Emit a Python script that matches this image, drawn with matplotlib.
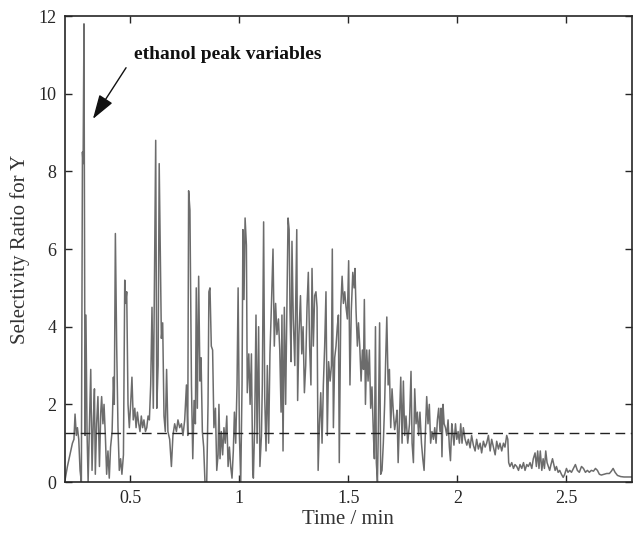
import matplotlib
matplotlib.use("Agg")
import matplotlib.pyplot as plt

time_min = [
    0.200, 0.211, 0.226, 0.234, 0.241, 0.246, 0.252, 0.257, 0.263, 0.269,
    0.275, 0.280, 0.283, 0.287, 0.292, 0.296, 0.301, 0.306, 0.312, 0.318,
    0.324, 0.330, 0.335, 0.339, 0.345, 0.351, 0.358, 0.364, 0.368, 0.374,
    0.379, 0.385, 0.391, 0.397, 0.403, 0.409, 0.416, 0.422, 0.426, 0.431,
    0.437, 0.443, 0.449, 0.455, 0.461, 0.468, 0.474, 0.478, 0.483, 0.489,
    0.495, 0.501, 0.507, 0.513, 0.520, 0.526, 0.532, 0.538, 0.544, 0.550,
    0.556, 0.562, 0.569, 0.575, 0.581, 0.587, 0.593, 0.599, 0.605, 0.611,
    0.616, 0.621, 0.627, 0.632, 0.642, 0.648, 0.654, 0.660, 0.666, 0.672,
    0.680, 0.688, 0.695, 0.703, 0.711, 0.718, 0.726, 0.734, 0.741, 0.749,
    0.757, 0.763, 0.767, 0.773, 0.780, 0.786, 0.792, 0.798, 0.802, 0.807,
    0.813, 0.819, 0.824, 0.830, 0.836, 0.842, 0.850, 0.856, 0.860, 0.865,
    0.871, 0.877, 0.883, 0.890, 0.896, 0.902, 0.906, 0.911, 0.917, 0.923,
    0.929, 0.935, 0.942, 0.948, 0.954, 0.960, 0.966, 0.972, 0.977, 0.983,
    0.989, 0.994, 1.000, 1.006, 1.012, 1.016, 1.021, 1.026, 1.032, 1.036,
    1.043, 1.049, 1.055, 1.061, 1.064, 1.070, 1.076, 1.081, 1.088, 1.094,
    1.101, 1.105, 1.111, 1.116, 1.122, 1.128, 1.134, 1.140, 1.146, 1.154,
    1.160, 1.166, 1.172, 1.179, 1.185, 1.191, 1.195, 1.200, 1.206, 1.212,
    1.218, 1.223, 1.228, 1.232, 1.237, 1.241, 1.247, 1.254, 1.258, 1.263,
    1.267, 1.273, 1.280, 1.286, 1.292, 1.298, 1.304, 1.310, 1.316, 1.322,
    1.328, 1.333, 1.339, 1.345, 1.351, 1.356, 1.361, 1.367, 1.373, 1.379,
    1.385, 1.391, 1.397, 1.403, 1.409, 1.416, 1.422, 1.426, 1.431, 1.437,
    1.443, 1.449, 1.454, 1.458, 1.465, 1.471, 1.477, 1.483, 1.489, 1.495,
    1.501, 1.507, 1.513, 1.520, 1.526, 1.530, 1.535, 1.541, 1.546, 1.552,
    1.558, 1.564, 1.569, 1.573, 1.578, 1.584, 1.590, 1.596, 1.602, 1.608,
    1.614, 1.619, 1.624, 1.628, 1.633, 1.637, 1.643, 1.648, 1.654, 1.660,
    1.666, 1.671, 1.676, 1.682, 1.688, 1.694, 1.700, 1.706, 1.712, 1.718,
    1.723, 1.728, 1.734, 1.740, 1.746, 1.752, 1.758, 1.764, 1.772, 1.780,
    1.787, 1.792, 1.798, 1.804, 1.810, 1.816, 1.822, 1.828, 1.835, 1.841,
    1.847, 1.853, 1.859, 1.865, 1.871, 1.877, 1.883, 1.890, 1.896, 1.902,
    1.908, 1.914, 1.920, 1.925, 1.929, 1.934, 1.939, 1.945, 1.951, 1.957,
    1.963, 1.968, 1.974, 1.978, 1.984, 1.991, 1.997, 2.003, 2.009, 2.015,
    2.021, 2.027, 2.035, 2.043, 2.050, 2.058, 2.065, 2.073, 2.081, 2.088,
    2.096, 2.104, 2.111, 2.119, 2.127, 2.134, 2.142, 2.150, 2.157, 2.165,
    2.173, 2.180, 2.188, 2.195, 2.203, 2.211, 2.218, 2.226, 2.231, 2.235,
    2.241, 2.249, 2.257, 2.264, 2.272, 2.280, 2.287, 2.295, 2.303, 2.310,
    2.318, 2.325, 2.333, 2.341, 2.348, 2.356, 2.362, 2.368, 2.374, 2.380,
    2.387, 2.393, 2.399, 2.405, 2.411, 2.417, 2.423, 2.429, 2.436, 2.442,
    2.448, 2.454, 2.462, 2.469, 2.477, 2.485, 2.492, 2.500, 2.507, 2.515,
    2.523, 2.532, 2.541, 2.550, 2.559, 2.569, 2.578, 2.587, 2.596, 2.605,
    2.614, 2.624, 2.633, 2.642, 2.651, 2.660, 2.673, 2.685, 2.697, 2.706,
    2.714, 2.723, 2.734, 2.749, 2.764, 2.780, 2.806,
]

selectivity_ratio = [
    0.05, 0.40, 0.80, 1.00, 1.10, 1.75, 1.20, 1.40, 1.10, 0.30,
    0.00, 8.50, 8.20, 11.8, 1.20, 4.30, 1.30, 0.00, 1.50, 2.90,
    0.30, 1.60, 2.40, 0.20, 1.50, 2.20, 0.40, 1.80, 2.20, 1.50,
    2.00, 1.20, 0.20, 0.80, 0.10, 0.90, 1.30, 2.70, 2.00, 6.40,
    3.50, 1.40, 0.30, 0.60, 0.20, 0.70, 5.20, 4.60, 4.90, 2.00,
    1.40, 2.00, 2.70, 1.60, 1.90, 1.40, 1.80, 1.50, 1.30, 1.70,
    1.40, 1.60, 1.30, 1.40, 1.70, 1.60, 2.50, 4.50, 1.90, 5.50,
    8.80, 1.90, 3.00, 8.20, 3.70, 4.10, 1.70, 1.30, 2.90, 1.30,
    1.10, 0.40, 1.20, 1.50, 1.30, 1.60, 1.40, 1.50, 1.20, 1.60,
    2.50, 1.20, 7.50, 7.00, 2.50, 0.60, 2.10, 1.50, 5.00, 1.90,
    5.30, 2.60, 3.20, 1.30, 0.90, 0.00, 0.00, 2.00, 4.90, 5.00,
    3.50, 3.40, 1.40, 1.90, 0.30, 0.70, 2.00, 0.60, 1.30, 0.70,
    1.40, 1.00, 1.70, 0.40, 0.90, 0.40, 0.10, 0.80, 1.80, 1.00,
    2.50, 5.00, 1.20, 0.00, 2.50, 6.50, 4.70, 6.80, 6.10, 2.30,
    3.30, 2.00, 3.30, 0.30, 0.10, 1.50, 4.30, 1.00, 4.00, 0.40,
    1.20, 2.50, 6.70, 2.20, 0.80, 3.00, 1.00, 3.30, 4.40, 6.00,
    3.50, 4.60, 3.80, 4.20, 3.40, 1.80, 4.30, 0.80, 4.50, 2.00,
    4.60, 6.80, 6.50, 4.40, 3.10, 6.20, 4.20, 3.00, 4.50, 6.50,
    2.10, 3.80, 4.80, 3.30, 4.00, 2.30, 3.00, 4.50, 5.40, 3.50,
    2.50, 5.50, 3.50, 4.80, 4.90, 4.50, 0.30, 1.50, 2.30, 1.00,
    2.50, 3.50, 4.90, 1.20, 3.10, 2.60, 3.00, 6.00, 1.40, 3.20,
    3.50, 4.00, 4.30, 0.50, 4.50, 5.30, 4.60, 4.90, 4.50, 4.20,
    5.70, 2.50, 4.40, 5.40, 5.00, 5.50, 4.40, 3.50, 4.10, 3.50,
    2.60, 3.40, 2.90, 4.70, 2.00, 3.40, 2.60, 3.40, 1.90, 2.45,
    1.30, 0.60, 4.00, 0.50, 0.00, 1.30, 4.10, 0.20, 0.30, 1.00,
    2.00, 3.20, 4.25, 2.50, 2.90, 1.40, 2.40, 1.80, 1.35, 1.60,
    1.85, 0.50, 1.60, 2.70, 1.00, 2.60, 1.20, 1.70, 1.00, 1.50,
    2.85, 1.00, 0.50, 2.40, 1.50, 1.80, 1.20, 1.80, 1.00, 0.60,
    0.30, 1.30, 2.20, 1.50, 2.00, 1.00, 1.30, 1.10, 1.40, 1.00,
    1.60, 1.90, 1.30, 1.90, 0.65, 2.00, 1.50, 1.40, 1.20, 1.60,
    0.90, 0.55, 1.50, 1.30, 0.95, 1.50, 1.10, 1.30, 1.00, 1.50,
    1.00, 1.40, 1.10, 0.95, 1.10, 0.88, 1.20, 0.95, 0.80, 1.10,
    0.85, 1.00, 0.75, 1.05, 0.90, 1.00, 1.20, 0.80, 1.10, 0.90,
    0.70, 1.05, 0.85, 1.00, 0.80, 1.00, 0.90, 1.20, 1.10, 0.50,
    0.40, 0.50, 0.35, 0.45, 0.40, 0.30, 0.45, 0.35, 0.50, 0.30,
    0.45, 0.40, 0.50, 0.35, 0.60, 0.75, 0.40, 0.80, 0.35, 0.80,
    0.30, 0.60, 0.35, 0.80, 0.50, 0.40, 0.30, 0.45, 0.60, 0.45,
    0.30, 0.40, 0.25, 0.30, 0.20, 0.12, 0.20, 0.35, 0.25, 0.30,
    0.25, 0.35, 0.45, 0.30, 0.25, 0.40, 0.35, 0.25, 0.30, 0.25,
    0.30, 0.28, 0.35, 0.30, 0.20, 0.18, 0.20, 0.22, 0.22, 0.28,
    0.35, 0.25, 0.17, 0.14, 0.13, 0.13, 0.13,
]

threshold = 1.25
x_ticks = [0.5, 1, 1.5, 2, 2.5]
y_ticks = [0, 2, 4, 6, 8, 10, 12]

plt.rcParams['font.family'] = ['Liberation Serif', 'DejaVu Serif']

fig = plt.figure(figsize=(6.33, 5.36), dpi=100)
ax = fig.add_axes([0.1027, 0.1007, 0.8955, 0.8693])

ax.plot(time_min, selectivity_ratio, color='#6c6c6c', lw=1.1)
ax.axhline(threshold, color='#222222', lw=1.0, ls=(0, (7, 4)))

ax.set_xlim(0.2, 2.8)
ax.set_ylim(0, 12)
ax.set_xticks(x_ticks)
ax.set_xticklabels([f"{v:g}" for v in x_ticks])
ax.set_yticks(y_ticks)
ax.tick_params(direction='in', length=5, width=1.0, top=True, right=True,
               labelsize=13, colors='#262626', pad=6)
for s in ax.spines.values():
    s.set_color('#262626')
    s.set_linewidth(1.2)

ax.set_xlabel('Time / min', fontsize=15, color='#333333', labelpad=2)
ax.set_ylabel('Selectivity Ratio for Y', fontsize=15, color='#333333', labelpad=6)

ax.text(0.516, 11.0, 'ethanol peak variables', fontsize=14, fontweight='bold',
        color='#111111', va='center', ha='left')
ax.annotate('', xy=(0.328, 9.35), xytext=(0.48, 10.67),
            arrowprops=dict(arrowstyle='-|>,head_length=0.75,head_width=0.24',
                            color='#111111', lw=1.0, mutation_scale=20,
                            shrinkA=0, shrinkB=0))

fig.savefig('out.png', dpi=100)
